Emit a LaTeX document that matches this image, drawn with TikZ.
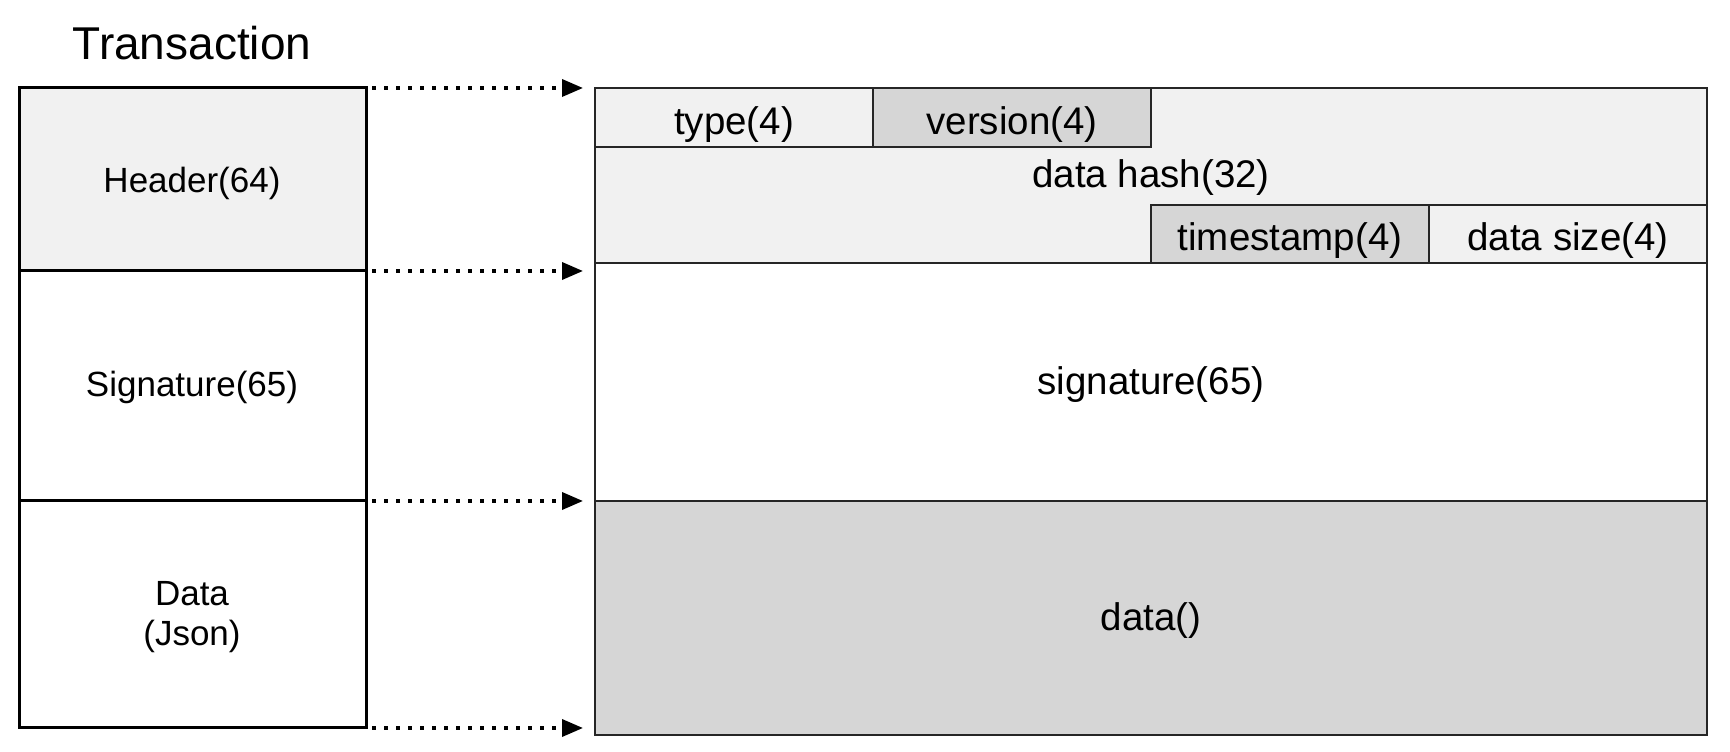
\documentclass[tikz,border=0pt]{standalone}
\usepackage{fontspec}
\setmainfont{Liberation Sans}
\usetikzlibrary{arrows.meta}
\definecolor{pale}{HTML}{F1F1F1}
\definecolor{mid}{HTML}{D6D6D6}
\begin{document}
\begin{tikzpicture}[x=1pt,y=1pt,
  outerbox/.style={draw=black,line width=3pt,inner sep=0pt,outer sep=0pt,
    anchor=north west},
  field/.style={draw=black!85,line width=2pt,inner sep=0pt,outer sep=0pt,
    anchor=north west},
  outerlbl/.style={font=\fontsize{35}{40}\selectfont,inner sep=0pt,anchor=base},
  lbl/.style={font=\fontsize{38.5}{44}\selectfont,inner sep=0pt,anchor=base},
  link/.style={line width=3.5pt,dash pattern=on 3.5pt off 8.5pt,
    -{Triangle[length=21pt,width=17pt]},shorten >=12pt,shorten <=6pt}]
\useasboundingbox (0,0) rectangle (1730,752);

% title
\node[font=\fontsize{46}{50}\selectfont,anchor=base,inner sep=0pt] (title) at (192,692) {Transaction};

% transaction segments
\node[outerbox,fill=pale,minimum width=347pt,minimum height=183pt] (hdr) at (19,664) {};
\node[outerbox,minimum width=347pt,minimum height=230pt] (sig) at (19,481) {};
\node[outerbox,minimum width=347pt,minimum height=227pt] (dat) at (19,251) {};
\node[outerlbl] (hdrtxt) at (192,559) {Header(64)};
\node[outerlbl] (sigtxt) at (192,355) {Signature(65)};
\node[outerlbl] (dattxt) at (192,146) {Data};
\node[outerlbl] (jsontxt) at (192,106) {(Json)};

% header layout
\node[field,fill=pale,minimum width=1112pt,minimum height=175pt] (hbox) at (595,664) {};
\node[field,fill=pale,minimum width=278pt,minimum height=59pt] (type) at (595,664) {};
\node[field,fill=mid,minimum width=278pt,minimum height=59pt] (ver) at (873,664) {};
\node[field,fill=mid,minimum width=278pt,minimum height=58pt] (ts) at (1151,547) {};
\node[field,fill=pale,minimum width=278pt,minimum height=58pt] (size) at (1429,547) {};
\node[lbl] (typetxt) at (type.center |- 0,617) {type(4)};
\node[lbl] (vertxt) at (ver.center |- 0,617) {version(4)};
\node[lbl] (hashtxt) at (hbox.center |- 0,564) {data hash(32)};
\node[lbl] (tstxt) at (ts.center |- 0,501) {timestamp(4)};
\node[lbl] (sizetxt) at (size.center |- 0,501) {data size(4)};

% signature and payload
\node[field,fill=white,minimum width=1112pt,minimum height=238pt] (sbox) at (595,489) {};
\node[field,fill=mid,minimum width=1112pt,minimum height=234pt] (dbox) at (595,251) {};
\node[lbl] (sboxtxt) at (sbox.center |- 0,357) {signature(65)};
\node[lbl] (dboxtxt) at (dbox.center |- 0,121) {data()};

% dotted guides
\draw[link] (hdr.north east) -- (hdr.north east -| hbox.west);
\draw[link] (hdr.south east) -- (hdr.south east -| hbox.west);
\draw[link] (dat.north east) -- (dat.north east -| hbox.west);
\draw[link] (dat.south east) -- (dat.south east -| hbox.west);
\end{tikzpicture}
\end{document}
